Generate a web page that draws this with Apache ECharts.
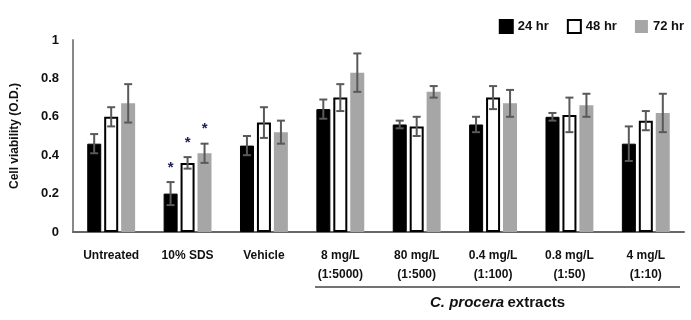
<!DOCTYPE html>
<html>
<head>
    <meta charset="utf-8"/>
    <title>Cell viability</title>
    <script src="https://cdn.jsdelivr.net/npm/echarts@6/dist/echarts.min.js"></script>
    <style>
        html, body { margin: 0; padding: 0; background: #fff; }
        #chart { width: 691px; height: 320px; }
    </style>
</head>
<body>
<div id="chart"></div>
<script>
    // groups on the x axis
    var categories = ['Untreated', '10% SDS', 'Vehicle', '8 mg/L\n(1:5000)', '80 mg/L\n(1:500)',
        '0.4 mg/L\n(1:100)', '0.8 mg/L\n(1:50)', '4 mg/L\n(1:10)'];
    var seriesNames = ['24 hr', '48 hr', '72 hr'];
    // mean O.D. values
    var hr24 = [0.46, 0.20, 0.45, 0.64, 0.56, 0.56, 0.60, 0.46];
    var hr48 = [0.60, 0.36, 0.57, 0.70, 0.55, 0.70, 0.61, 0.58];
    var hr72 = [0.67, 0.41, 0.52, 0.83, 0.73, 0.67, 0.66, 0.62];
    // error bars (+/-)
    var err24 = [0.05, 0.06, 0.05, 0.05, 0.02, 0.04, 0.02, 0.09];
    var err48 = [0.05, 0.03, 0.08, 0.07, 0.05, 0.06, 0.09, 0.05];
    var err72 = [0.10, 0.05, 0.06, 0.10, 0.03, 0.07, 0.06, 0.10];
    // significance asterisks (1 = shown)
    var sig24 = [0, 1, 0, 0, 0, 0, 0, 0];
    var sig48 = [0, 1, 0, 0, 0, 0, 0, 0];
    var sig72 = [0, 1, 0, 0, 0, 0, 0, 0];
    var yTicks = [0, 0.2, 0.4, 0.6, 0.8, 1];

    var BAR_W = 14, BAR_GAP = 3;

    function errSeries(vals, errs, sig, k) {
        return {
            type: 'custom',
            z: 5,
            silent: true,
            data: vals.map(function (v, i) { return [i, v, errs[i], sig[i]]; }),
            encode: {x: 0, y: 1},
            renderItem: function (params, api) {
                var i = api.value(0), v = api.value(1), e = api.value(2);
                var off = (k - 1) * (BAR_W + BAR_GAP);
                var top = api.coord([i, v + e]);
                var bot = api.coord([i, v - e]);
                var x = top[0] + off;
                var st = {stroke: '#595959', lineWidth: 2};
                var kids = [
                    {type: 'line', shape: {x1: x, y1: top[1], x2: x, y2: bot[1]}, style: st},
                    {type: 'line', shape: {x1: x - 4, y1: top[1], x2: x + 4, y2: top[1]}, style: st},
                    {type: 'line', shape: {x1: x - 4, y1: bot[1], x2: x + 4, y2: bot[1]}, style: st}
                ];
                if (api.value(3)) {
                    kids.push({
                        type: 'text',
                        style: {
                            text: '*', x: x, y: top[1] - 7, align: 'center', verticalAlign: 'bottom',
                            fill: '#1a1f5c', font: 'bold 15px "Liberation Sans", Arial, sans-serif'
                        }
                    });
                }
                return {type: 'group', children: kids};
            }
        };
    }

    var chart = echarts.init(document.getElementById('chart'));
    var font = '"Liberation Sans", Arial, sans-serif';
    chart.setOption({
        animation: false,
        grid: {left: 73, right: 7, top: 40, bottom: 88},
        legend: {
            right: 2, top: 14,
            itemWidth: 13, itemHeight: 13, itemGap: 18,
            icon: 'rect',
            data: seriesNames,
            textStyle: {fontFamily: font, fontWeight: 'bold', fontSize: 13, color: '#111'}
        },
        xAxis: {
            type: 'category',
            data: categories,
            axisLine: {lineStyle: {color: '#666', width: 2}},
            axisTick: {show: false},
            axisLabel: {
                interval: 0, margin: 14,
                fontFamily: font, fontWeight: 'bold', fontSize: 12, color: '#111', lineHeight: 19
            }
        },
        yAxis: {
            type: 'value',
            min: 0, max: 1, interval: 0.2,
            name: 'Cell viability (O.D.)',
            nameLocation: 'middle',
            nameGap: 52,
            nameTextStyle: {fontFamily: font, fontWeight: 'bold', fontSize: 12, color: '#111'},
            axisLine: {show: true, lineStyle: {color: '#888', width: 2}},
            axisTick: {show: false},
            splitLine: {show: false},
            axisLabel: {
                margin: 14, fontFamily: font, fontWeight: 'bold', fontSize: 13, color: '#111',
                formatter: function (v) {
                    return yTicks.indexOf(Math.round(v * 10) / 10) >= 0 ? String(Math.round(v * 10) / 10) : '';
                }
            }
        },
        graphic: [
            {type: 'line', shape: {x1: 315, y1: 287, x2: 680, y2: 287}, style: {stroke: '#444', lineWidth: 1.5}},
            {
                type: 'text', left: 430, top: 295,
                style: {
                    rich: {
                        i: {fontFamily: font, fontWeight: 'bold', fontStyle: 'italic', fontSize: 15, fill: '#111'},
                        n: {fontFamily: font, fontWeight: 'bold', fontSize: 15, fill: '#111'}
                    },
                    text: '{i|C. procera} {n|extracts}'
                }
            }
        ],
        series: [
            {name: seriesNames[0], type: 'bar', data: hr24, barWidth: BAR_W, barGap: '21%',
                itemStyle: {color: '#000', borderColor: '#000', borderWidth: 1}},
            {name: seriesNames[1], type: 'bar', data: hr48, barWidth: BAR_W, barGap: '21%',
                itemStyle: {color: '#fff', borderColor: '#000', borderWidth: 2}},
            {name: seriesNames[2], type: 'bar', data: hr72, barWidth: BAR_W, barGap: '21%',
                itemStyle: {color: '#a6a6a6'}},
            errSeries(hr24, err24, sig24, 0),
            errSeries(hr48, err48, sig48, 1),
            errSeries(hr72, err72, sig72, 2)
        ]
    });
</script>
</body>
</html>
